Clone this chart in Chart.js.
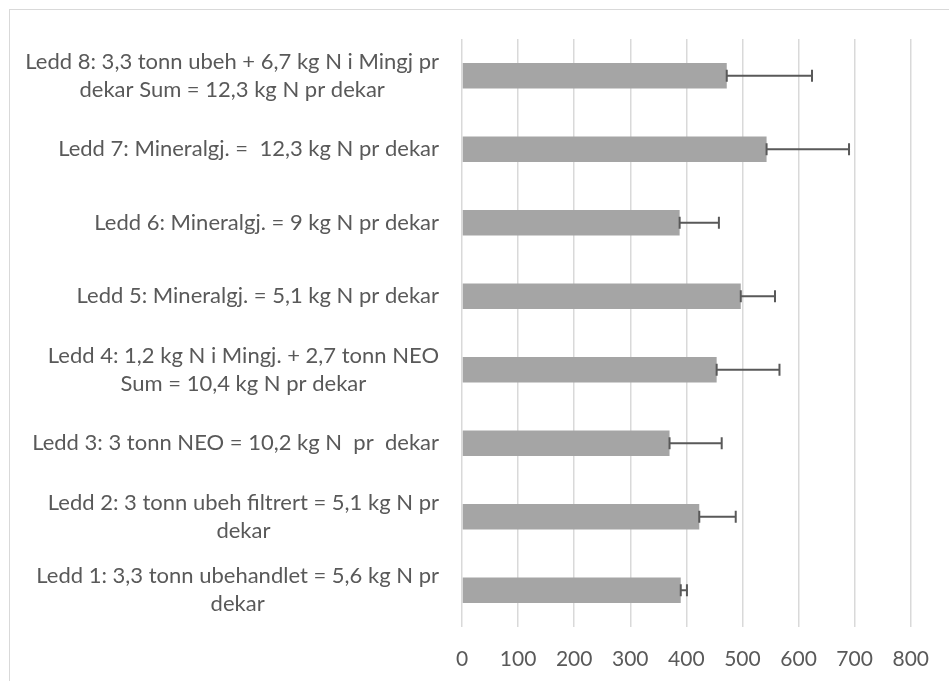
<!DOCTYPE html>
<html>
<head>
<meta charset="utf-8">
<script src="https://cdn.jsdelivr.net/npm/chart.js@4"></script>
<style>
    html, body { margin: 0; padding: 0; background: #fff; overflow: hidden; }
    #ramme {
        position: absolute; left: 9px; top: 9px; width: 980px; height: 720px;
        border-left: 1.5px solid #D9D9D9; border-top: 1.5px solid #D9D9D9;
    }
    #graf { position: absolute; left: 0; top: 0; }
</style>
</head>
<body>
<div id="ramme"></div>
<canvas id="graf" width="949" height="681"></canvas>
<script>
// Ledd 1 .. Ledd 8 (Ledd 1 nederst)
const ledd = [
    ['Ledd 1: 3,3 tonn ubehandlet = 5,6 kg N pr', 'dekar'],
    ['Ledd 2: 3 tonn ubeh filtrert = 5,1 kg N pr', 'dekar'],
    ['Ledd 3: 3 tonn NEO = 10,2 kg N  pr  dekar'],
    ['Ledd 4: 1,2 kg N i Mingj. + 2,7 tonn NEO', 'Sum = 10,4 kg N pr dekar'],
    ['Ledd 5: Mineralgj. = 5,1 kg N pr dekar'],
    ['Ledd 6: Mineralgj. = 9 kg N pr dekar'],
    ['Ledd 7: Mineralgj. =  12,3 kg N pr dekar'],
    ['Ledd 8: 3,3 tonn ubeh + 6,7 kg N i Mingj pr', 'dekar Sum = 12,3 kg N pr dekar']
];
const avling = [390, 423, 370, 454, 497, 388, 543, 472];
const feil = [11, 65, 93, 112, 61, 70, 147, 152];
const xVerdier = [0, 100, 200, 300, 400, 500, 600, 700, 800];

const tekstFarge = '#595959';
const skrift = 'Lato';

// feilstolper (bare pluss-retning)
const feilstolper = {
    id: 'feilstolper',
    afterDatasetsDraw(chart) {
        const ctx = chart.ctx;
        const x = chart.scales.x, y = chart.scales.y;
        ctx.save();
        ctx.strokeStyle = '#595959';
        ctx.lineWidth = 2;
        avling.forEach((v, i) => {
            const yc = y.getPixelForValue(i);
            const x0 = x.getPixelForValue(v);
            const x1 = x.getPixelForValue(v + feil[i]);
            ctx.beginPath();
            ctx.moveTo(x0, yc); ctx.lineTo(x1, yc);
            ctx.moveTo(x0, yc - 6); ctx.lineTo(x0, yc + 6);
            ctx.moveTo(x1, yc - 6); ctx.lineTo(x1, yc + 6);
            ctx.stroke();
        });
        ctx.restore();
    }
};

// kategorietiketter: hver blokk sentrert i seg selv, hoyrejustert mot aksen
const etiketter = {
    id: 'etiketter',
    afterDraw(chart) {
        const ctx = chart.ctx;
        const y = chart.scales.y;
        ctx.save();
        ctx.font = '22px ' + skrift;
        ctx.fillStyle = tekstFarge;
        ctx.textAlign = 'center';
        ctx.textBaseline = 'middle';
        ledd.forEach((linjer, i) => {
            const bredest = Math.max(...linjer.map(l => ctx.measureText(l).width));
            const cx = chart.chartArea.left - 23 - bredest / 2;
            const cy = y.getPixelForTick(i);
            linjer.forEach((l, j) => {
                ctx.fillText(l, cx, cy + (j - (linjer.length - 1) / 2) * 28);
            });
        });
        ctx.restore();
    }
};

new Chart(document.getElementById('graf'), {
    type: 'bar',
    data: {
        labels: ledd,
        datasets: [{
            data: avling,
            backgroundColor: '#A5A5A5',
            barPercentage: 0.35,
            categoryPercentage: 1
        }]
    },
    options: {
        indexAxis: 'y',
        responsive: false,
        animation: false,
        devicePixelRatio: 1,
        layout: { padding: { left: 0, top: 39, right: 36, bottom: 0 } },
        plugins: {
            legend: { display: false },
            tooltip: { enabled: false }
        },
        scales: {
            x: {
                min: 0,
                max: 800,
                afterBuildTicks: (scale) => { scale.ticks = xVerdier.map(v => ({ value: v })); },
                afterFit: (scale) => { scale.height = 54; },
                grid: { color: '#D9D9D9', lineWidth: 1.5, drawTicks: false },
                border: { display: false },
                ticks: {
                    color: tekstFarge,
                    font: { family: skrift, size: 21 },
                    padding: 20,
                    maxRotation: 0
                }
            },
            y: {
                reverse: true,
                afterFit: (scale) => { scale.width = 462; },
                grid: { display: false },
                border: { display: false },
                ticks: { display: false }
            }
        }
    },
    plugins: [feilstolper, etiketter]
});
</script>
</body>
</html>
